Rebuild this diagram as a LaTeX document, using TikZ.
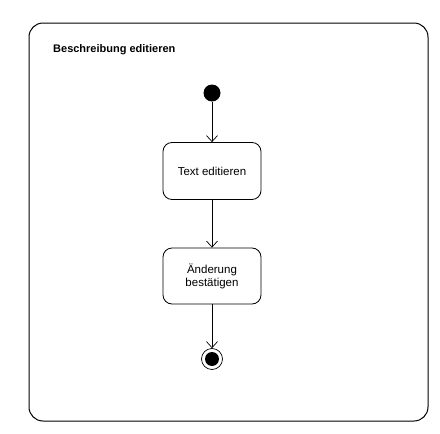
\documentclass[tikz,border=0pt]{standalone}
\usepackage{fontspec}
\setmainfont{Liberation Sans}
\usetikzlibrary{arrows.meta}
\begin{document}
\begin{tikzpicture}[x=1pt,y=-1pt,
  frame/.style={draw, line width=1pt, rounded corners=14pt},
  actbox/.style={draw, line width=0.8pt, rounded corners=9pt, minimum width=98pt, minimum height=57pt, align=center, font=\fontsize{11.5}{13}\selectfont},
  flow/.style={draw, line width=0.7pt, -{Straight Barb[length=6pt,width=11pt,line width=0.7pt]}},
  startdot/.style={circle, fill=black, minimum size=17pt, inner sep=0pt},
  enddot/.style={circle, draw, line width=0.7pt, minimum size=21pt, inner sep=0pt, path picture={\fill (path picture bounding box.center) circle (7pt);}}
]
\useasboundingbox (0,0) rectangle (440,434);
\draw[frame] (29,23) rectangle (428,421);
\node[anchor=west, inner sep=0pt, font=\bfseries\fontsize{11}{13}\selectfont] (title) at (53,50) {Beschreibung editieren};
\node[startdot] (start) at (212,93) {};
\node[actbox] (a1) at (212,171) {Text editieren};
\node[actbox, minimum height=56pt] (a2) at (212,276) {Änderung\\bestätigen};
\node[enddot] (end) at (212,359) {};
\draw[flow] (start) -- (a1);
\draw[flow] (a1) -- (a2);
\draw[flow] (a2) -- (end);
\end{tikzpicture}
\end{document}
